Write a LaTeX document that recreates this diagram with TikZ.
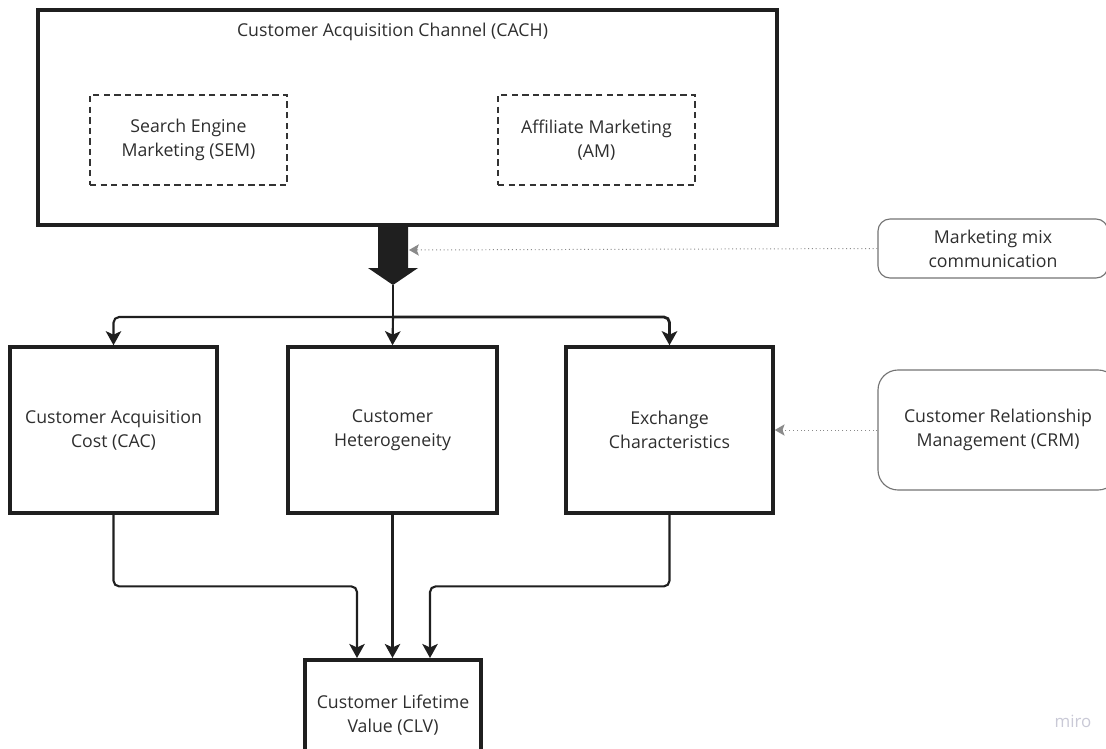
\documentclass[tikz,border=0pt]{standalone}
\usepackage{fontspec}
\setmainfont{Open Sans}
\usetikzlibrary{calc}
\usetikzlibrary{arrows.meta}

\newcommand{\px}{0.025cm}
\definecolor{inkgray}{HTML}{2E2E2E}
\definecolor{hintgray}{HTML}{8A8A8A}
\definecolor{markgray}{HTML}{C9C9D6}

\tikzset{
  box/.style={draw=black!88, line width=2.5pt, align=center, text=inkgray},
  subbox/.style={draw=black!80, line width=0.9pt, dash pattern=on 4.5pt off 3pt, align=center, text=inkgray},
  sidebox/.style={draw=black!55, line width=0.8pt, rounded corners=0.3cm, align=center, text=inkgray},
  conn/.style={draw=black!88, line width=1.5pt, rounded corners=4pt, -{Stealth[length=10pt,width=11pt,inset=2.5pt]}},
  hint/.style={draw=hintgray, line width=0.7pt, dotted, -{Stealth[length=7pt,width=8pt,inset=1.5pt]}}
}

\begin{document}
\begin{tikzpicture}[x=\px, y=-\px, font=\fontsize{12.6}{17}\selectfont]

\useasboundingbox (0,0) rectangle (1106,749);
\clip (0,0) rectangle (1106,749);

\node[box, minimum width=739*\px, minimum height=215*\px] (cach) at (407.5,117.5) {};
\node[text=inkgray] (cachtitle) at (392.5,32) {Customer Acquisition Channel (CACH)};
\node[subbox, minimum width=197*\px, minimum height=90*\px] (sem) at (188.5,140) {Search Engine\\Marketing (SEM)};
\node[subbox, minimum width=197*\px, minimum height=90*\px] (am) at (596.5,140) {Affiliate Marketing\\(AM)};

\node[sidebox, minimum width=230*\px, minimum height=59*\px] (mix) at (993,248.5) {Marketing mix\\communication};
\node[sidebox, rounded corners=0.5cm, minimum width=240*\px, minimum height=120*\px] (crm) at (998,430) {Customer Relationship\\Management (CRM)};

\node[box, minimum width=207*\px, minimum height=166*\px] (cac) at (113.5,430) {Customer Acquisition\\Cost (CAC)};
\node[box, minimum width=209*\px, minimum height=166*\px] (het) at (392.5,430) {Customer\\Heterogeneity};
\node[box, minimum width=207*\px, minimum height=166*\px] (exc) at (669.5,430) {Exchange\\Characteristics};

\node[box, minimum width=176*\px, minimum height=110*\px] (clv) at (393,715) {Customer Lifetime\\Value (CLV)};
\node[text=markgray, font=\fontsize{12}{13}\selectfont] (miro) at (1073,721) {miro};

\coordinate (bigtop) at (393,226);
\coordinate (bigtip) at (393,285);
\coordinate (split) at (393,317);
\coordinate (shaftr) at (409,250);
\coordinate (clvl) at (357,658);
\coordinate (clvr) at (430,658);

\fill[black!88] (bigtop) ++(-15,0) -- ++(0,42) -- ++(-10,0) -- (bigtip) -- ++(25,-17) -- ++(-10,0) -- ++(0,-42) -- cycle;
\draw[black!88, line width=1.5pt] (bigtip) -- (split);

\draw[conn] (split) -| (cac.north);
\draw[conn] (split) -- (het.north);
\draw[conn, line width=2pt] (split) -| (exc.north);

\draw[conn] (cac.south) -- ($(cac.south)!0.5!(cac.south |- clvl)$) -| (clvl);
\draw[conn] (het.south) -- (het.south |- clvl);
\draw[conn] (exc.south) -- ($(exc.south)!0.5!(exc.south |- clvr)$) -| (clvr);

\draw[hint] (mix.west) -- (shaftr);
\draw[hint] (crm.west) -- (exc.east);

\end{tikzpicture}
\end{document}
